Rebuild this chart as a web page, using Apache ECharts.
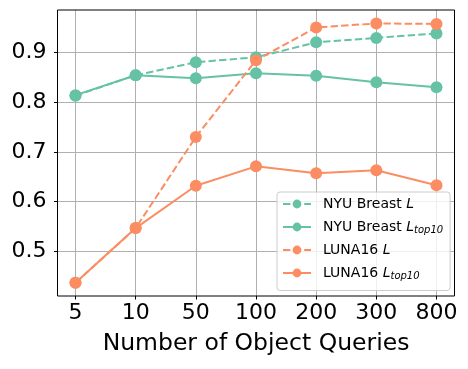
<!DOCTYPE html>
<html><head><meta charset="utf-8">
<script src="https://cdn.jsdelivr.net/npm/echarts@6/dist/echarts.min.js"></script>
<style>html,body{margin:0;padding:0;background:#fff}#c{width:468px;height:369px}</style>
</head><body><div id="c"></div>
<script>
const categories = ['5','10','50','100','200','300','800'];
const nyuL      = [0.813, 0.854, 0.880, 0.890, 0.920, 0.929, 0.938];
const nyuTop10  = [0.814, 0.854, 0.848, 0.858, 0.853, 0.840, 0.830];
const lunaL     = [0.437, 0.547, 0.730, 0.884, 0.950, 0.958, 0.957];
const lunaTop10 = [0.437, 0.547, 0.632, 0.671, 0.657, 0.663, 0.633];
const yTicks = [0.5, 0.6, 0.7, 0.8, 0.9];

const GREEN = '#66c2a5', ORANGE = '#fc8d62';
const FONT = 'DejaVu Sans';
const pairs = arr => arr.map((v, i) => [i, v]);

function mk(name, data, color, dashed) {
  return {
    name, type: 'line', xAxisIndex: 1, yAxisIndex: 1,
    data: pairs(data), symbol: 'circle', symbolSize: 12,
    lineStyle: { color, width: 2, type: dashed ? [7.4, 3.2] : 'solid' },
    itemStyle: { color },
    emphasis: { disabled: true }, animation: false
  };
}

const chart = echarts.init(document.getElementById('c'));
chart.setOption({
  animation: false,
  grid: [
    { left: 57.5, right: 13.5, top: 52.3, bottom: 117.5 },
    { left: 75.5, right: 31.5, top: 10, bottom: 73 }
  ],
  xAxis: [
    { gridIndex: 0, type: 'value', min: 0, max: 1, show: false },
    { gridIndex: 1, type: 'value', min: 0, max: categories.length - 1, interval: 1,
      axisLine: { show: false },
      axisTick: { show: true, length: 3.5, lineStyle: { color: '#000' } },
      axisLabel: { margin: 6, fontSize: 22, fontFamily: FONT, color: '#000',
        formatter: v => categories[v] },
      splitLine: { show: true, lineStyle: { color: '#b0b0b0', width: 1 } },
      name: 'Number of Object Queries', nameLocation: 'middle', nameGap: 36,
      nameTextStyle: { fontSize: 23.5, fontFamily: FONT, color: '#000' } }
  ],
  yAxis: [
    { gridIndex: 0, type: 'value', min: yTicks[0], max: yTicks[yTicks.length-1], interval: 0.1,
      axisLine: { show: false },
      axisTick: { show: true, length: 3.5, lineStyle: { color: '#000' } },
      axisLabel: { margin: 11, fontSize: 22, fontFamily: FONT, color: '#000',
        formatter: v => v.toFixed(1) },
      splitLine: { show: true, lineStyle: { color: '#b0b0b0', width: 1 } } },
    { gridIndex: 1, type: 'value', min: 0.4106, max: 0.985, show: false }
  ],
  legend: {
    orient: 'vertical', left: 277, top: 192,
    padding: [4, 7, 9, 5], itemGap: 6.5, itemWidth: 28, itemHeight: 11,
    backgroundColor: 'rgba(255,255,255,0.8)', borderColor: '#cccccc', borderWidth: 1, borderRadius: 3,
    selectedMode: false,
    data: ['NYU Breast L', 'NYU Breast Ltop10', 'LUNA16 L', 'LUNA16 Ltop10'],
    formatter: n => {
      if (n === 'NYU Breast L') return 'NYU Breast {i|L}';
      if (n === 'NYU Breast Ltop10') return 'NYU Breast {i|L}{s|top10}';
      if (n === 'LUNA16 L') return 'LUNA16 {i|L}';
      return 'LUNA16 {i|L}{s|top10}';
    },
    textStyle: { fontSize: 14, fontFamily: FONT, color: '#000', padding: [0, 0, 0, 7], lineHeight: 16,
      rich: {
        i: { fontSize: 14, fontFamily: FONT, fontStyle: 'italic', color: '#000', lineHeight: 16 },
        s: { fontSize: 10, fontFamily: FONT, fontStyle: 'italic', color: '#000', padding: [7, 0, 0, 0], lineHeight: 16 }
      } }
  },
  graphic: [{
    type: 'rect', z: 100, silent: true,
    shape: { x: 57.5, y: 10, width: 397, height: 286 },
    style: { fill: 'none', stroke: '#000', lineWidth: 1 }
  }],
  series: [
    mk('NYU Breast L', nyuL, GREEN, true),
    mk('NYU Breast Ltop10', nyuTop10, GREEN, false),
    mk('LUNA16 L', lunaL, ORANGE, true),
    mk('LUNA16 Ltop10', lunaTop10, ORANGE, false)
  ]
});
</script></body></html>
